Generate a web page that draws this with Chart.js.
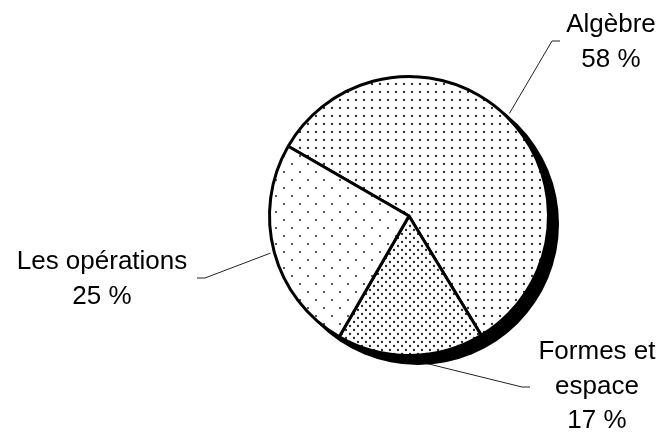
<!DOCTYPE html>
<html>
<head>
<meta charset="utf-8">
<script src="https://cdn.jsdelivr.net/npm/chart.js@4/dist/chart.umd.min.js"></script>
<style>
  html, body { margin: 0; padding: 0; background: #fff; }
  #c { display: block; }
</style>
</head>
<body>
<canvas id="c" width="663" height="435"></canvas>
<script>
// data
var categories = ["Algèbre", "Formes et espace", "Les opérations"];
var values = [58, 17, 25];
var labelText = [["Algèbre", "58 %"], ["Formes et", "espace", "17 %"], ["Les opérations", "25 %"]];

// where each label sits (text centre x, first baseline y, elbow of the leader line)
var labelPos = [
  { x: 611, y: 32, ex1: 560, ex2: 552, ey: 41 },
  { x: 597, y: 359, ex1: 530, ex2: 522, ey: 387 },
  { x: 102, y: 269, ex1: 197, ex2: 205, ey: 278 }
];

function makePattern(size, dots, r, col) {
  var c = document.createElement("canvas");
  c.width = size;
  c.height = size;
  var g = c.getContext("2d");
  g.fillStyle = "#fff";
  g.fillRect(0, 0, size, size);
  g.fillStyle = col;
  for (var i = 0; i < dots.length; i++) {
    g.beginPath();
    g.arc(dots[i][0], dots[i][1], r, 0, Math.PI * 2);
    g.fill();
  }
  return g.createPattern(c, "repeat");
}

var patAlg = makePattern(8, [[4, 4]], 1.15, "#2a2a2a");
var patFormes = makePattern(8, [[2, 2], [6, 6]], 1.15, "#222");
var patOps = makePattern(16, [[4, 4], [12, 12]], 1.1, "#333");

var shadowAndLines = {
  id: "shadowAndLines",
  beforeDatasetsDraw: function (chart) {
    var ctx = chart.ctx;
    var meta = chart.getDatasetMeta(0);
    var arc0 = meta.data[0];
    var cx = arc0.x, cy = arc0.y, r = arc0.outerRadius;
    ctx.save();
    // leader lines
    ctx.strokeStyle = "#222";
    ctx.lineWidth = 1;
    for (var i = 0; i < meta.data.length; i++) {
      var a = meta.data[i];
      var mid = (a.startAngle + a.endAngle) / 2;
      var px = cx + Math.cos(mid) * (r + 4);
      var py = cy + Math.sin(mid) * (r + 4);
      var p = labelPos[i];
      ctx.beginPath();
      ctx.moveTo(p.ex1, p.ey);
      ctx.lineTo(p.ex2, p.ey);
      ctx.lineTo(px, py);
      ctx.stroke();
    }
    // shadow
    ctx.fillStyle = "#000";
    ctx.beginPath();
    ctx.arc(cx + 9, cy + 8, r + 1.5, 0, Math.PI * 2);
    ctx.fill();
    ctx.restore();
  },
  afterDraw: function (chart) {
    var ctx = chart.ctx;
    ctx.save();
    ctx.fillStyle = "#000";
    ctx.font = "26px 'Liberation Sans', Arial, sans-serif";
    ctx.textAlign = "center";
    ctx.textBaseline = "alphabetic";
    for (var i = 0; i < labelText.length; i++) {
      for (var j = 0; j < labelText[i].length; j++) {
        ctx.fillText(labelText[i][j], labelPos[i].x, labelPos[i].y + j * 34.5);
      }
    }
    ctx.restore();
  }
};

new Chart(document.getElementById("c"), {
  type: "pie",
  data: {
    labels: categories,
    datasets: [{
      data: values,
      backgroundColor: [patAlg, patFormes, patOps],
      borderColor: "#000",
      borderWidth: 3
    }]
  },
  options: {
    responsive: false,
    animation: false,
    rotation: -60,
    layout: { padding: { left: 268, right: 113, top: 75, bottom: 78 } },
    plugins: {
      legend: { display: false },
      tooltip: { enabled: false }
    }
  },
  plugins: [shadowAndLines]
});
</script>
</body>
</html>
